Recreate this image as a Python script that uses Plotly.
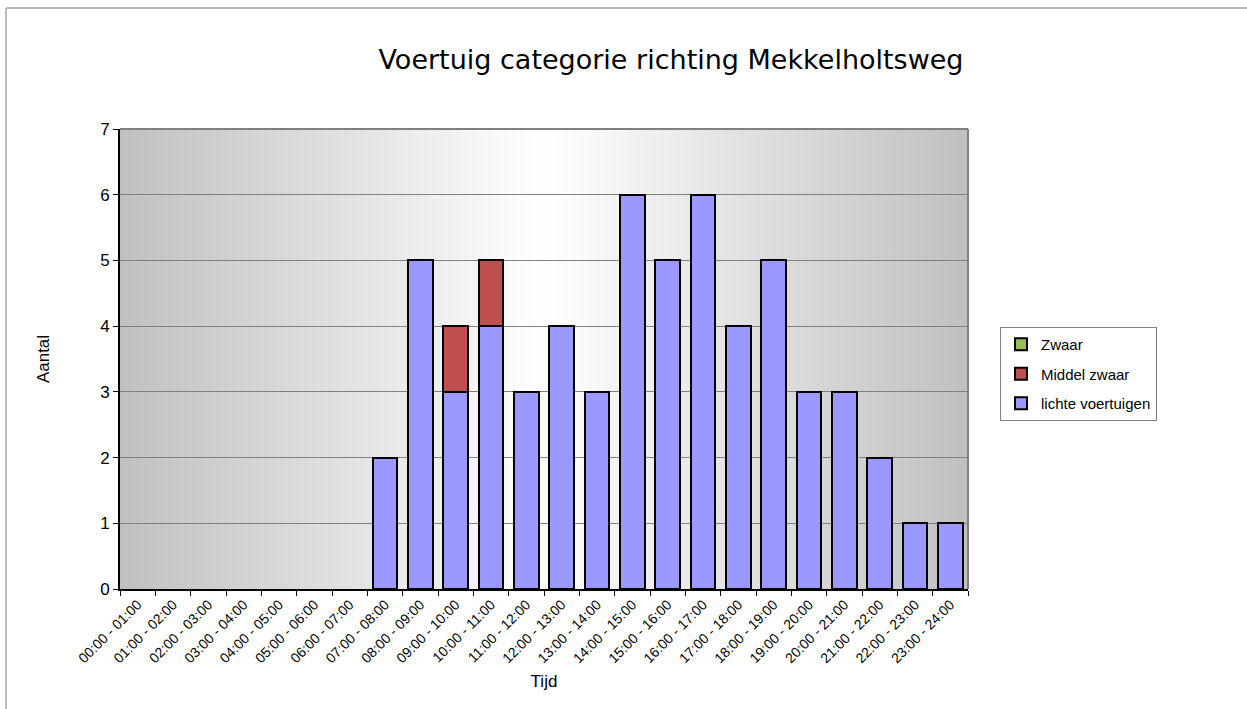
import base64

import plotly.graph_objs as go

# data
tijdvakken = [
    "00:00 - 01:00", "01:00 - 02:00", "02:00 - 03:00", "03:00 - 04:00",
    "04:00 - 05:00", "05:00 - 06:00", "06:00 - 07:00", "07:00 - 08:00",
    "08:00 - 09:00", "09:00 - 10:00", "10:00 - 11:00", "11:00 - 12:00",
    "12:00 - 13:00", "13:00 - 14:00", "14:00 - 15:00", "15:00 - 16:00",
    "16:00 - 17:00", "17:00 - 18:00", "18:00 - 19:00", "19:00 - 20:00",
    "20:00 - 21:00", "21:00 - 22:00", "22:00 - 23:00", "23:00 - 24:00",
]
lichte_voertuigen = [0, 0, 0, 0, 0, 0, 0, 2, 5, 3, 4, 3, 4, 3, 6, 5, 6, 4, 5, 3, 3, 2, 1, 1]
middel_zwaar = [0, 0, 0, 0, 0, 0, 0, 0, 0, 1, 1, 0, 0, 0, 0, 0, 0, 0, 0, 0, 0, 0, 0, 0]
zwaar = [0] * 24
y_ticks = [0, 1, 2, 3, 4, 5, 6, 7]

FONT = "Liberation Sans, Arial, sans-serif"

# horizontal gray-white-gray gradient for the plot area
svg = (
    "<svg xmlns='http://www.w3.org/2000/svg' width='100' height='100' preserveAspectRatio='none'>"
    "<defs><linearGradient id='g' x1='0' y1='0' x2='1' y2='0'>"
    "<stop offset='0' stop-color='#c0c0c0'/>"
    "<stop offset='0.5' stop-color='#ffffff'/>"
    "<stop offset='1' stop-color='#c0c0c0'/>"
    "</linearGradient></defs>"
    "<rect width='100' height='100' fill='url(#g)'/></svg>"
)
bg_src = "data:image/svg+xml;base64," + base64.b64encode(svg.encode()).decode()

fig = go.Figure()
series = [
    # name, values, colour, legend position
    ("lichte voertuigen", lichte_voertuigen, "#9999ff", 3),
    ("Middel zwaar", middel_zwaar, "#c0504d", 2),
    ("Zwaar", zwaar, "#9bbb59", 1),
]
for name, values, color, rank in series:
    fig.add_trace(
        go.Bar(
            x=tijdvakken,
            # empty hours get no bar outline at all
            y=[v if v else None for v in values],
            name=name,
            legendgroup=name,
            legendrank=rank,
            marker=dict(color=color, line=dict(color="#000000", width=2)),
        )
    )

W, H = 1247, 709
L, R, T, B = 120, 279, 129, 120
pw, ph = W - L - R, H - T - B


def px_x(v):
    return (v - L) / pw


def px_y(v):
    return (H - B - v) / ph


fig.update_layout(
    width=W,
    height=H,
    margin=dict(l=L, r=R, t=T, b=B, pad=0),
    barmode="stack",
    bargap=0.31,
    paper_bgcolor="#ffffff",
    plot_bgcolor="rgba(0,0,0,0)",
    font=dict(family=FONT, color="#000000", size=12),
    title=dict(
        text="Voertuig categorie richting Mekkelholtsweg",
        font=dict(family="DejaVu Sans, sans-serif", size=27, color="#000000"),
        x=671 / W,
        xanchor="center",
        xref="container",
        y=1 - 60 / H,
        yanchor="middle",
    ),
    legend=dict(
        traceorder="grouped",
        tracegroupgap=7,
        x=px_x(1000),
        y=px_y(327),
        xanchor="left",
        yanchor="top",
        bgcolor="#ffffff",
        bordercolor="#808080",
        borderwidth=1,
        font=dict(family=FONT, size=15),
        itemwidth=30,
    ),
    images=[
        dict(
            source=bg_src,
            xref="paper",
            yref="paper",
            x=0,
            y=1,
            sizex=1,
            sizey=1,
            sizing="stretch",
            xanchor="left",
            yanchor="top",
            layer="below",
        )
    ],
    shapes=[
        # plot area border, top and right
        dict(type="line", xref="paper", yref="paper", x0=0, x1=1, y0=1, y1=1,
             line=dict(color="#808080", width=2)),
        dict(type="line", xref="paper", yref="paper", x0=1, x1=1, y0=0, y1=1,
             line=dict(color="#808080", width=2)),
        # outer chart frame
        dict(type="line", xref="paper", yref="paper", x0=px_x(6), x1=px_x(W + 5),
             y0=px_y(8), y1=px_y(8), line=dict(color="#a6a6a6", width=1.5)),
        dict(type="line", xref="paper", yref="paper", x0=px_x(6), x1=px_x(6),
             y0=px_y(8), y1=px_y(H + 5), line=dict(color="#a6a6a6", width=1.5)),
    ],
)

fig.update_xaxes(
    type="category",
    tickson="boundaries",
    ticks="outside",
    ticklen=5,
    tickcolor="#000000",
    tickangle=-45,
    tickfont=dict(family=FONT, size=14),
    showgrid=False,
    showline=True,
    linecolor="#000000",
    linewidth=2,
    title=dict(text="Tijd", font=dict(family=FONT, size=17), standoff=10),
)
fig.update_yaxes(
    range=[0, 7],
    tickvals=y_ticks,
    ticks="outside",
    ticklen=5,
    tickcolor="#000000",
    tickfont=dict(family=FONT, size=17),
    showgrid=True,
    gridcolor="#808080",
    gridwidth=1,
    zeroline=False,
    showline=True,
    linecolor="#000000",
    linewidth=2,
    title=dict(text="Aantal", font=dict(family=FONT, size=17), standoff=46),
)

# page without the default body margin so the chart sits at the window corner
fig.write_html(
    "out.html",
    config={"displayModeBar": False},
    post_script="document.body.style.margin='0';",
)
